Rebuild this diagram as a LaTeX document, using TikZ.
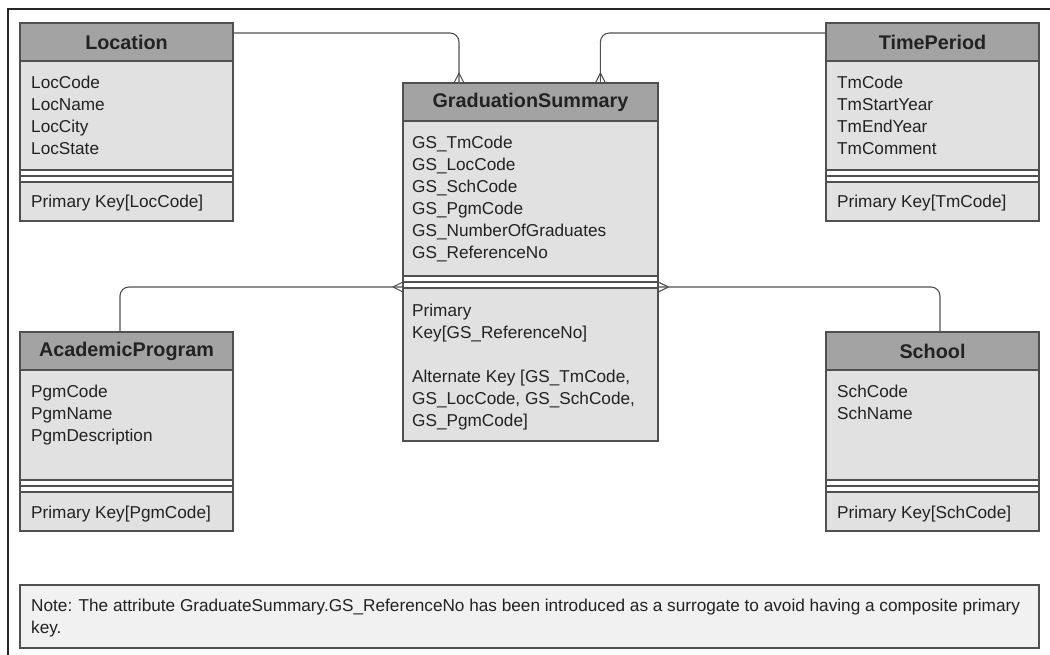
\documentclass[tikz,border=0pt]{standalone}
\usepackage{fontspec}
\setmainfont{Liberation Sans}
\usetikzlibrary{calc}
\definecolor{hdr}{HTML}{A3A3A3}
\definecolor{bodyc}{HTML}{E1E1E1}
\definecolor{notec}{HTML}{F1F1F1}
\definecolor{edge}{HTML}{505050}
\definecolor{txt}{HTML}{222222}
\tikzset{
  border/.style={draw=edge, line width=1.1pt},
  conn/.style={draw=edge, line width=1.1pt, rounded corners=9pt},
  fork/.style={draw=edge, line width=1.1pt},
  boxarea/.style={inner sep=0pt, anchor=north west},
  titletext/.style={font=\fontsize{19.8}{22}\selectfont\bfseries, text=txt, inner sep=0pt},
  fld/.style={font=\fontsize{17.2}{22}\selectfont, text=txt, inner sep=0pt, anchor=base west},
}
\newcommand\entbox[7]{%
  \node[boxarea, minimum width=#4pt, minimum height={(38+#5+12+#6)*1pt}] (#1) at (#2,#3) {};
  \draw[border, fill=hdr] (#2,#3) rectangle ++(#4,38);
  \draw[border, fill=bodyc] (#2,#3+38) rectangle ++(#4,#5);
  \draw[border, fill=white] (#2,#3+38+#5) rectangle ++(#4,12);
  \draw[border] (#2,#3+38+#5+6) -- ++(#4,0);
  \draw[border, fill=bodyc] (#2,#3+50+#5) rectangle ++(#4,#6);
  \node[titletext] (#1-t) at (#2+#4/2,#3+19) {#7};
}
\begin{document}
\begin{tikzpicture}[x=1pt,y=-1pt]
\useasboundingbox (0,0) rectangle (1050,654);
\fill[white] (0,0) rectangle (1050,654);
% frame
\draw[draw=black!85, line width=2pt] (8,656) -- (8,9) -- (1052,9);

% entities
\entbox{loc}{20}{23}{213}{109}{39}{Location}
\entbox{tp}{826}{23}{213}{109}{39}{TimePeriod}
\entbox{gs}{403}{83}{255}{155}{153}{GraduationSummary}
\entbox{ap}{20}{332}{213}{110}{39}{AcademicProgram}
\entbox{sch}{826}{332}{213}{110}{39}{School}

% fields
\foreach \t [count=\i] in {LocCode,LocName,LocCity,LocState}
  \node[fld] at (31,{82+(\i-1)*22+6}) {\t};
\node[fld] (lockey) at (31,207) {Primary Key[LocCode]};

\foreach \t [count=\i] in {TmCode,TmStartYear,TmEndYear,TmComment}
  \node[fld] at (837,{82+(\i-1)*22+6}) {\t};
\node[fld] (tpkey) at (837,207) {Primary Key[TmCode]};

\foreach \t [count=\i] in {GS\_TmCode,GS\_LocCode,GS\_SchCode,GS\_PgmCode,GS\_NumberOfGraduates,GS\_ReferenceNo}
  \node[fld] at (412,{142+(\i-1)*22+6}) {\t};
\node[fld] (gsk1) at (412,316) {Primary};
\node[fld] (gsk2) at (412,338) {Key[GS\_ReferenceNo]};
\node[fld] (gsk3) at (412,382) {Alternate Key [GS\_TmCode,};
\node[fld] (gsk4) at (412,404) {GS\_LocCode, GS\_SchCode,};
\node[fld] (gsk5) at (412,426) {GS\_PgmCode]};

\foreach \t [count=\i] in {PgmCode,PgmName,PgmDescription}
  \node[fld] at (31,{391+(\i-1)*22+6}) {\t};
\node[fld] (apkey) at (31,518) {Primary Key[PgmCode]};

\foreach \t [count=\i] in {SchCode,SchName}
  \node[fld] at (837,{391+(\i-1)*22+6}) {\t};
\node[fld] (schkey) at (837,518) {Primary Key[SchCode]};

% connectors
\coordinate (e1) at ($(gs.north west)+(56,0)$);
\coordinate (e2) at ($(gs.north east)+(-58,0)$);
\coordinate (e3) at ($(gs.north west)+(0,204)$);
\coordinate (e4) at ($(gs.north east)+(0,204)$);
\draw[conn] ($(loc.north east)+(0,10)$) -| (e1);
\draw[conn] ($(tp.north west)+(0,10)$) -| (e2);
\draw[conn] ($(ap.north west)+(100,0)$) |- (e3);
\draw[conn] ($(sch.north west)+(114,0)$) |- (e4);
\draw[fork] ($(e1)+(0,-10)$) -- ($(e1)+(-5,0)$) ($(e1)+(0,-10)$) -- ($(e1)+(5,0)$);
\draw[fork] ($(e2)+(0,-10)$) -- ($(e2)+(-5,0)$) ($(e2)+(0,-10)$) -- ($(e2)+(5,0)$);
\draw[fork] ($(e3)+(-10,0)$) -- ($(e3)+(0,-5)$) ($(e3)+(-10,0)$) -- ($(e3)+(0,5)$);
\draw[fork] ($(e4)+(10,0)$) -- ($(e4)+(0,-5)$) ($(e4)+(10,0)$) -- ($(e4)+(0,5)$);

% note
\draw[border, fill=notec] (20,585) rectangle (1039,648);
\node[fld] (note) at (31,611) {Note: The attribute GraduateSummary.GS\_ReferenceNo has been introduced as a surrogate to avoid having a composite primary};
\node[fld] (note2) at (31,633) {key.};
\end{tikzpicture}
\end{document}
